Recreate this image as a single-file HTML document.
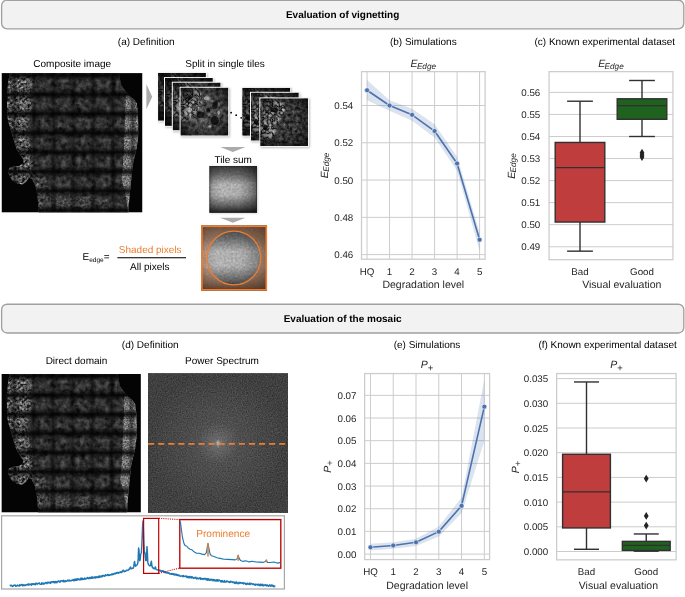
<!DOCTYPE html>
<html lang="en">
<head>
<meta charset="utf-8">
<title>Evaluation of vignetting and of the mosaic</title>
<style>
html,body{margin:0;padding:0;background:#fff;}
body{width:685px;height:597px;overflow:hidden;}
svg{display:block;font-family:"Liberation Sans", Arial, sans-serif;will-change:transform;text-rendering:geometricPrecision;}
</style>
</head>
<body>
<svg width="685" height="597" viewBox="0 0 685 597">
<rect width="685" height="597" fill="#fff"/>
<defs>
<filter id="fTissue" x="0" y="0" width="100%" height="100%" color-interpolation-filters="sRGB">
  <feTurbulence type="fractalNoise" baseFrequency="0.2" numOctaves="3" seed="3" result="n"/>
  <feColorMatrix in="n" type="matrix" values="0.5 0 0 0 -0.05  0.5 0 0 0 -0.05  0.5 0 0 0 -0.05  0 0 0 0 1" result="g"/>
  <feGaussianBlur in="g" stdDeviation="0.7"/>
</filter>
<filter id="fSpeck" x="-5%" y="-5%" width="110%" height="110%" color-interpolation-filters="sRGB">
  <feTurbulence type="fractalNoise" baseFrequency="0.38" numOctaves="3" seed="11" result="n"/>
  <feColorMatrix in="n" type="matrix" values="1.9 0 0 0 -0.5  1.9 0 0 0 -0.5  1.9 0 0 0 -0.5  0 0 0 0 1" result="g0"/>
  <feGaussianBlur in="g0" stdDeviation="0.4" result="g"/>
  <feGaussianBlur in="SourceAlpha" stdDeviation="3" result="a"/>
  <feComposite in="g" in2="a" operator="in"/>
</filter>
<filter id="fStrip" x="-5%" y="-5%" width="110%" height="110%" color-interpolation-filters="sRGB">
  <feTurbulence type="fractalNoise" baseFrequency="0.6" numOctaves="2" seed="17" result="n"/>
  <feColorMatrix in="n" type="matrix" values="1.0 0 0 0 0.06  1.0 0 0 0 0.06  1.0 0 0 0 0.06  0 0 0 0 1" result="g"/>
  <feGaussianBlur in="SourceAlpha" stdDeviation="0.7" result="a"/>
  <feComposite in="g" in2="a" operator="in"/>
</filter>
<filter id="fTile" x="0" y="0" width="100%" height="100%" color-interpolation-filters="sRGB">
  <feTurbulence type="fractalNoise" baseFrequency="0.25" numOctaves="3" seed="7" result="n"/>
  <feColorMatrix in="n" type="matrix" values="0.9 0 0 0 -0.12  0.9 0 0 0 -0.12  0.9 0 0 0 -0.12  0 0 0 0 1"/>
</filter>
<filter id="fTile2" x="0" y="0" width="100%" height="100%" color-interpolation-filters="sRGB">
  <feTurbulence type="fractalNoise" baseFrequency="0.3" numOctaves="3" seed="23" result="n"/>
  <feColorMatrix in="n" type="matrix" values="0.8 0 0 0 -0.17  0.8 0 0 0 -0.17  0.8 0 0 0 -0.17  0 0 0 0 1"/>
</filter>
<filter id="fSum" x="0" y="0" width="100%" height="100%" color-interpolation-filters="sRGB">
  <feTurbulence type="fractalNoise" baseFrequency="0.45" numOctaves="2" seed="5" result="n"/>
  <feColorMatrix in="n" type="matrix" values="0.26 0 0 0 0.6  0.26 0 0 0 0.6  0.26 0 0 0 0.6  0 0 0 0 1"/>
</filter>
<filter id="fPS" x="0" y="0" width="100%" height="100%" color-interpolation-filters="sRGB">
  <feTurbulence type="fractalNoise" baseFrequency="0.8" numOctaves="2" seed="9" result="n"/>
  <feColorMatrix in="n" type="matrix" values="0.26 0 0 0 0.125  0.26 0 0 0 0.125  0.26 0 0 0 0.125  0 0 0 0 1"/>
</filter>
<filter id="fShadow" x="-10%" y="-10%" width="125%" height="125%">
  <feGaussianBlur stdDeviation="0.8"/>
</filter>
<filter id="fBlur2" x="-20%" y="-20%" width="140%" height="140%"><feGaussianBlur stdDeviation="2.2"/></filter>
<filter id="fCell" x="-5%" y="-5%" width="110%" height="110%" color-interpolation-filters="sRGB">
  <feTurbulence type="turbulence" baseFrequency="0.22" numOctaves="2" seed="31" result="n"/>
  <feColorMatrix in="n" type="matrix" values="2.0 0 0 0 -0.05  2.0 0 0 0 -0.05  2.0 0 0 0 -0.05  0 0 0 0 1" result="g"/>
  <feGaussianBlur in="SourceAlpha" stdDeviation="1.3" result="a"/>
  <feComposite in="g" in2="a" operator="in"/>
</filter>
<filter id="fBlur07" x="-30%" y="-30%" width="160%" height="160%"><feGaussianBlur stdDeviation="0.7"/></filter>
<filter id="fBlur1" x="-20%" y="-20%" width="140%" height="140%"><feGaussianBlur stdDeviation="1"/></filter>
<linearGradient id="gEdgeL" x1="0" x2="1" y1="0" y2="0"><stop offset="0" stop-color="#000" stop-opacity="0.72"/><stop offset="0.5" stop-color="#000" stop-opacity="0.3"/><stop offset="1" stop-color="#000" stop-opacity="0"/></linearGradient>
<linearGradient id="gEdgeR" x1="1" x2="0" y1="0" y2="0"><stop offset="0" stop-color="#000" stop-opacity="0.72"/><stop offset="0.5" stop-color="#000" stop-opacity="0.3"/><stop offset="1" stop-color="#000" stop-opacity="0"/></linearGradient>
<linearGradient id="gEdgeT" x1="0" x2="0" y1="0" y2="1"><stop offset="0" stop-color="#000" stop-opacity="0.88"/><stop offset="0.5" stop-color="#000" stop-opacity="0.42"/><stop offset="1" stop-color="#000" stop-opacity="0"/></linearGradient>
<linearGradient id="gEdgeB" x1="0" x2="0" y1="1" y2="0"><stop offset="0" stop-color="#000" stop-opacity="0.88"/><stop offset="0.5" stop-color="#000" stop-opacity="0.42"/><stop offset="1" stop-color="#000" stop-opacity="0"/></linearGradient>
<pattern id="pVig" x="-7.2" y="2.1" width="19.8" height="19.3" patternUnits="userSpaceOnUse">
  <rect x="0" y="0" width="4.4" height="19.3" fill="url(#gEdgeL)" opacity="0.75"/>
  <rect x="15.4" y="0" width="4.4" height="19.3" fill="url(#gEdgeR)" opacity="0.75"/>
  <rect x="0" y="0" width="19.8" height="5.6" fill="url(#gEdgeT)"/>
  <rect x="0" y="13.7" width="19.8" height="5.6" fill="url(#gEdgeB)"/>
</pattern>
<radialGradient id="gTileVig" cx="50%" cy="50%" r="72%">
  <stop offset="0" stop-color="#000" stop-opacity="0"/>
  <stop offset="0.45" stop-color="#000" stop-opacity="0.1"/>
  <stop offset="0.8" stop-color="#000" stop-opacity="0.6"/>
  <stop offset="1" stop-color="#000" stop-opacity="0.9"/>
</radialGradient>
<radialGradient id="gSumVig" cx="0.5" cy="0.47" r="0.75" gradientTransform="translate(0.5,0.47) scale(1.18,0.92) translate(-0.5,-0.47)">
  <stop offset="0" stop-color="#000" stop-opacity="0"/>
  <stop offset="0.3" stop-color="#000" stop-opacity="0.06"/>
  <stop offset="0.5" stop-color="#000" stop-opacity="0.3"/>
  <stop offset="0.67" stop-color="#000" stop-opacity="0.6"/>
  <stop offset="0.9" stop-color="#000" stop-opacity="0.82"/>
  <stop offset="1" stop-color="#000" stop-opacity="0.88"/>
</radialGradient>
<linearGradient id="gVH" x1="0" x2="1" y1="0" y2="0">
  <stop offset="0" stop-color="#000" stop-opacity="0.3"/><stop offset="0.08" stop-color="#000" stop-opacity="0.12"/><stop offset="0.25" stop-color="#000" stop-opacity="0"/>
  <stop offset="0.62" stop-color="#000" stop-opacity="0.04"/><stop offset="0.86" stop-color="#000" stop-opacity="0.28"/><stop offset="1" stop-color="#000" stop-opacity="0.5"/>
</linearGradient>
<linearGradient id="gVV" x1="0" x2="0" y1="0" y2="1">
  <stop offset="0" stop-color="#000" stop-opacity="0.7"/><stop offset="0.2" stop-color="#000" stop-opacity="0.42"/><stop offset="0.4" stop-color="#000" stop-opacity="0.04"/>
  <stop offset="0.62" stop-color="#000" stop-opacity="0.04"/><stop offset="0.82" stop-color="#000" stop-opacity="0.42"/><stop offset="0.96" stop-color="#000" stop-opacity="0.74"/><stop offset="1" stop-color="#000" stop-opacity="0.9"/>
</linearGradient>
<radialGradient id="gPS" cx="50%" cy="50%" r="50%">
  <stop offset="0" stop-color="#fff" stop-opacity="0.6"/>
  <stop offset="0.05" stop-color="#fff" stop-opacity="0.22"/>
  <stop offset="0.3" stop-color="#fff" stop-opacity="0.08"/>
  <stop offset="1" stop-color="#fff" stop-opacity="0"/>
</radialGradient>
<clipPath id="cTissue">
  <path d="M8.2 0 L117.3 0 L118.5 6 L120 12.3 L124 18 L128.3 23.3 L132 26 L135.2 30.2 L136.4 40 L137 52 L136.6 64.8 L135 76 L133 84 L131.1 92.4 L130 104 L128.3 120 L127.5 130 L127 139.5
  L37.2 139.5 L36.5 128 L35.2 119 L34 113 L30.5 106 L27.5 104.5 L24.5 109 L21 111.5 L16 110.5 L11 107.5 L8.5 104 L6.5 98.5 L8 95 L12 93.5 L17 93 L21.5 90.5 L22 87 L19 82 L15.1 75.8 L12.5 68 L10.9 62 L8 53 L6.2 45.4 L5.6 34 L5.4 23.3 L6.4 11 Z"/>
</clipPath>
<clipPath id="cSq"><rect x="0" y="0" width="141" height="139.5"/></clipPath>
<clipPath id="cTile"><rect x="1" y="1" width="47.6" height="47.6"/></clipPath>

<g id="mosaic" clip-path="url(#cSq)">
  <rect width="141" height="139.5" fill="#040404"/>
  <g clip-path="url(#cTissue)">
    <rect width="141" height="139.5" fill="#303030"/>
    <rect width="141" height="139.5" filter="url(#fTissue)" opacity="0.85"/>
    <!-- bright speckled left margin -->
    <g filter="url(#fBlur2)" opacity="0.0"><rect/></g>
    <path d="M0 0 L38 0 L30 14 L33 30 L25 48 L28 64 L30 80 L35 96 L38 112 L40 139.5 L0 139.5 Z" filter="url(#fSpeck)" opacity="0.6"/>
    <path d="M40 104 L75 118 L110 128 L127 139.5 L40 139.5 Z" filter="url(#fSpeck)" opacity="0.22"/>
    <!-- bright right strip -->
    <path d="M124 22 L141 22 L141 139.5 L126 139.5 L125.2 128 L123 116 L120 106 L121.5 92 L122.8 64.8 L123.6 45 L124.2 30 Z" filter="url(#fStrip)" opacity="0.75"/>
    <rect width="141" height="139.5" fill="url(#pVig)"/>
    <!-- a few dark holes -->
    <g fill="#000" opacity="0.55">
      <ellipse cx="45" cy="80" rx="2" ry="2.6"/><ellipse cx="28" cy="78" rx="1.6" ry="2"/><ellipse cx="59" cy="55" rx="1.6" ry="1.4"/>
      <ellipse cx="40" cy="104" rx="1.8" ry="1.5"/><ellipse cx="76" cy="32" rx="2" ry="1.3"/><ellipse cx="38" cy="48" rx="1.3" ry="1.3"/>
    </g>
  </g>
</g>

<g id="tileA">
  <rect x="1.2" y="1.2" width="49.2" height="49.2" fill="#000" opacity="0.28" filter="url(#fShadow)"/>
  <rect width="49.6" height="49.6" fill="#fbfbfb"/>
  <g clip-path="url(#cTile)">
  <rect x="1" y="1" width="47.6" height="47.6" fill="#404040"/>
  <rect x="1" y="1" width="47.6" height="47.6" filter="url(#fTile)" opacity="0.75"/>
  <path d="M0 0 L19 0 L23 9 L20 20 L14 32 L2 36 L0 30 Z" filter="url(#fCell)" opacity="0.7"/>
  <g fill="#000" opacity="0.72" filter="url(#fBlur07)"><ellipse cx="35.4" cy="18.5" rx="2.8" ry="4"/><ellipse cx="35.2" cy="33.8" rx="4.2" ry="4.6"/><ellipse cx="21" cy="28" rx="3.8" ry="3.2"/><ellipse cx="9" cy="11" rx="3.5" ry="1.6"/><ellipse cx="28.5" cy="23.5" rx="2" ry="2.4"/></g>
  <g fill="#fff" opacity="0.55" filter="url(#fBlur07)"><ellipse cx="27" cy="11.5" rx="2.6" ry="2"/><ellipse cx="9.6" cy="23" rx="2.8" ry="2.4"/><ellipse cx="30.5" cy="39.5" rx="1.6" ry="1.1"/><ellipse cx="39" cy="26" rx="1.2" ry="2.2"/></g>
  <rect x="1" y="1" width="47.6" height="47.6" fill="url(#gTileVig)"/>
  </g>
</g>
<g id="tileB">
  <rect x="1.2" y="1.2" width="49.2" height="49.2" fill="#000" opacity="0.28" filter="url(#fShadow)"/>
  <rect width="49.6" height="49.6" fill="#f4f4f4"/>
  <g clip-path="url(#cTile)">
  <rect x="1" y="1" width="47.6" height="47.6" fill="#303030"/>
  <rect x="1" y="1" width="47.6" height="47.6" filter="url(#fTile2)" opacity="0.7"/>
  <path d="M0 3 L10 1 L24 4 L28 12 L22 20 L17 28 L15 38 L8 45 L0 46 Z" filter="url(#fCell)" opacity="0.7"/>
  <g fill="#000" opacity="0.75" filter="url(#fBlur07)"><ellipse cx="14.7" cy="12.5" rx="3.7" ry="2.4"/><ellipse cx="6" cy="30" rx="2" ry="3"/></g>
  <path d="M27 6 Q38 8 46 12" stroke="#fff" stroke-width="0.7" fill="none" opacity="0.25"/>
  <rect x="1" y="1" width="47.6" height="47.6" fill="url(#gTileVig)" opacity="0.8"/>
  </g>
</g>
</defs>
<rect x="1.6" y="0.2" width="682.2" height="28.6" rx="5.5" ry="5.5" fill="#f2f2f2" stroke="#a0a0a0" stroke-width="1.35"/>
<text x="342.6" y="18.2" font-size="10" text-anchor="middle" fill="#000" font-weight="bold" font-style="normal" >Evaluation of vignetting</text>
<rect x="1.6" y="304.2" width="682.2" height="28.80000000000001" rx="5.5" ry="5.5" fill="#f2f2f2" stroke="#a0a0a0" stroke-width="1.35"/>
<text x="342.6" y="322.3" font-size="10" text-anchor="middle" fill="#000" font-weight="bold" font-style="normal" >Evaluation of the mosaic</text>
<text x="146.2" y="45.0" font-size="10" text-anchor="middle" fill="#000" font-weight="normal" font-style="normal" >(a) Definition</text>
<text x="72.2" y="66.6" font-size="10" text-anchor="middle" fill="#000" font-weight="normal" font-style="normal" >Composite image</text>
<text x="225" y="66.6" font-size="10" text-anchor="middle" fill="#000" font-weight="normal" font-style="normal" >Split in single tiles</text>
<use href="#mosaic" transform="translate(1.5,73.1)"/>
<path d="M146.4 84.3 L152.2 96.8 L146.4 109.3 Z" fill="#ababab"/>
<use href="#tileA" x="157.15" y="71.9"/>
<rect x="158.15" y="72.9" width="47.6" height="47.6" fill="#000" opacity="0.4"/>
<use href="#tileA" x="164.0" y="77.1"/>
<rect x="165.0" y="78.1" width="47.6" height="47.6" fill="#000" opacity="0.4"/>
<use href="#tileA" x="171.8" y="81.7"/>
<use href="#tileA" x="179.6" y="86.8"/>
<use href="#tileB" x="241.5" y="86.9"/>
<rect x="242.5" y="87.9" width="47.6" height="47.6" fill="#000" opacity="0.35"/>
<use href="#tileB" x="250.0" y="91.8"/>
<use href="#tileB" x="259.4" y="97.4"/>
<circle cx="231.1" cy="112.7" r="0.9" fill="#000"/>
<circle cx="236.2" cy="115.2" r="0.9" fill="#000"/>
<circle cx="241.2" cy="117.8" r="0.9" fill="#000"/>
<path d="M220.2 146.9 L245.5 146.9 L232.85 152.1 Z" fill="#ababab"/>
<path d="M220.2 217.7 L245.5 217.7 L232.85 222.8 Z" fill="#ababab"/>
<text x="233.2" y="163.0" font-size="10" text-anchor="middle" fill="#000" font-weight="normal" font-style="normal" >Tile sum</text>
<rect x="210.0" y="166.5" width="47.6" height="46.8" fill="#000" opacity="0.22" filter="url(#fShadow)"/>
<rect x="209.6" y="166.0" width="47.4" height="46.7" filter="url(#fSum)"/>
<rect x="209.6" y="166.0" width="47.4" height="46.7" fill="url(#gVH)"/>
<rect x="209.6" y="166.0" width="47.4" height="46.7" fill="url(#gVV)"/>
<rect x="209.9" y="166.3" width="46.8" height="46.1" fill="none" stroke="#222" stroke-width="0.6" opacity="0.8"/>
<rect x="201.2" y="225.6" width="65.8" height="64.9" filter="url(#fSum)"/>
<rect x="201.2" y="225.6" width="65.8" height="64.9" fill="url(#gVH)"/>
<rect x="201.2" y="225.6" width="65.8" height="64.9" fill="url(#gVV)"/>
<path fill-rule="evenodd" d="M201.2 225.6 h65.8 v64.9 h-65.8 Z M260.7 258.0 a26.8 26.8 0 1 0 -53.6 0 a26.8 26.8 0 1 0 53.6 0 Z" fill="#e8834a" opacity="0.3"/>
<circle cx="233.9" cy="258.0" r="26.8" fill="none" stroke="#ed7d31" stroke-width="1.25"/>
<rect x="201.9" y="226.3" width="64.4" height="63.5" fill="none" stroke="#ed7d31" stroke-width="1.6"/>
<text x="82.5" y="260.2" font-size="10" fill="#000">E<tspan font-size="6.5" dy="2">edge</tspan><tspan dy="-2">=</tspan></text>
<text x="150.2" y="252.5" font-size="10" text-anchor="middle" fill="#ed7d31" font-weight="normal" font-style="normal" >Shaded pixels</text>
<rect x="117.4" y="257.1" width="68.6" height="1.2" fill="#222"/>
<text x="149.8" y="270.2" font-size="10" text-anchor="middle" fill="#000" font-weight="normal" font-style="normal" >All pixels</text>
<text x="423.3" y="45.0" font-size="10" text-anchor="middle" fill="#000" font-weight="normal" font-style="normal" >(b) Simulations</text>
<line x1="361.5" x2="485.1" y1="105.50" y2="105.50" stroke="#cccccc" stroke-width="1"/>
<line x1="361.5" x2="485.1" y1="142.78" y2="142.78" stroke="#cccccc" stroke-width="1"/>
<line x1="361.5" x2="485.1" y1="180.06" y2="180.06" stroke="#cccccc" stroke-width="1"/>
<line x1="361.5" x2="485.1" y1="217.34" y2="217.34" stroke="#cccccc" stroke-width="1"/>
<line x1="361.5" x2="485.1" y1="254.62" y2="254.62" stroke="#cccccc" stroke-width="1"/>
<line x1="367.05" x2="367.05" y1="71.65" y2="259.2" stroke="#cccccc" stroke-width="1"/>
<line x1="389.56" x2="389.56" y1="71.65" y2="259.2" stroke="#cccccc" stroke-width="1"/>
<line x1="412.07" x2="412.07" y1="71.65" y2="259.2" stroke="#cccccc" stroke-width="1"/>
<line x1="434.58" x2="434.58" y1="71.65" y2="259.2" stroke="#cccccc" stroke-width="1"/>
<line x1="457.09" x2="457.09" y1="71.65" y2="259.2" stroke="#cccccc" stroke-width="1"/>
<line x1="479.60" x2="479.60" y1="71.65" y2="259.2" stroke="#cccccc" stroke-width="1"/>
<rect x="361.5" y="71.65" width="123.60000000000002" height="187.54999999999998" fill="none" stroke="#cccccc" stroke-width="1.25"/>
<clipPath id="cl361"><rect x="361.5" y="71.65" width="123.60000000000002" height="187.54999999999998"/></clipPath>
<g clip-path="url(#cl361)">
<polygon points="367.05,79.96 389.56,100.28 412.07,108.86 434.58,124.14 457.09,156.76 479.60,232.25 479.60,250.89 457.09,170.74 434.58,137.56 412.07,120.78 389.56,110.72 367.05,100.28" fill="#4c72b0" fill-opacity="0.2"/>
<polyline points="367.05,90.22 389.56,105.50 412.07,114.82 434.58,131.04 457.09,163.47 479.60,239.71" fill="none" stroke="#4c72b0" stroke-width="1.6" stroke-linejoin="round"/>
</g>
<circle cx="367.05" cy="90.22" r="2.5" fill="#4c72b0" stroke="#fff" stroke-width="0.6"/>
<circle cx="389.56" cy="105.50" r="2.5" fill="#4c72b0" stroke="#fff" stroke-width="0.6"/>
<circle cx="412.07" cy="114.82" r="2.5" fill="#4c72b0" stroke="#fff" stroke-width="0.6"/>
<circle cx="434.58" cy="131.04" r="2.5" fill="#4c72b0" stroke="#fff" stroke-width="0.6"/>
<circle cx="457.09" cy="163.47" r="2.5" fill="#4c72b0" stroke="#fff" stroke-width="0.6"/>
<circle cx="479.60" cy="239.71" r="2.5" fill="#4c72b0" stroke="#fff" stroke-width="0.6"/>
<text x="353.3" y="109.0" font-size="9.75" text-anchor="end" fill="#262626" font-weight="normal" font-style="normal" >0.54</text>
<text x="353.3" y="146.28000000000003" font-size="9.75" text-anchor="end" fill="#262626" font-weight="normal" font-style="normal" >0.52</text>
<text x="353.3" y="183.56000000000006" font-size="9.75" text-anchor="end" fill="#262626" font-weight="normal" font-style="normal" >0.50</text>
<text x="353.3" y="220.8400000000001" font-size="9.75" text-anchor="end" fill="#262626" font-weight="normal" font-style="normal" >0.48</text>
<text x="353.3" y="258.12" font-size="9.75" text-anchor="end" fill="#262626" font-weight="normal" font-style="normal" >0.46</text>
<text x="367.05" y="274.6" font-size="9.75" text-anchor="middle" fill="#262626" font-weight="normal" font-style="normal" >HQ</text>
<text x="389.56" y="274.6" font-size="9.75" text-anchor="middle" fill="#262626" font-weight="normal" font-style="normal" >1</text>
<text x="412.07" y="274.6" font-size="9.75" text-anchor="middle" fill="#262626" font-weight="normal" font-style="normal" >2</text>
<text x="434.58000000000004" y="274.6" font-size="9.75" text-anchor="middle" fill="#262626" font-weight="normal" font-style="normal" >3</text>
<text x="457.09000000000003" y="274.6" font-size="9.75" text-anchor="middle" fill="#262626" font-weight="normal" font-style="normal" >4</text>
<text x="479.6" y="274.6" font-size="9.75" text-anchor="middle" fill="#262626" font-weight="normal" font-style="normal" >5</text>
<text x="423.3" y="288.0" font-size="10.5" text-anchor="middle" fill="#262626" font-weight="normal" font-style="normal" >Degradation level</text>
<text x="423.3" y="67.0" font-size="10.5" text-anchor="middle" fill="#262626" font-style="italic">E<tspan font-size="8.2" font-style="italic" dx="-0.7" dy="1.7">Edge</tspan></text>
<text transform="translate(327.5,165.425) rotate(-90)" font-size="10.5" text-anchor="middle" fill="#262626" font-style="italic">E<tspan font-size="8.2" font-style="italic" dx="-0.7" dy="1.7">Edge</tspan></text>
<text x="604.8" y="45.0" font-size="10" text-anchor="middle" fill="#000" font-weight="normal" font-style="normal" >(c) Known experimental dataset</text>
<line x1="549.05" x2="672.95" y1="92.40" y2="92.40" stroke="#cccccc" stroke-width="1"/>
<line x1="549.05" x2="672.95" y1="114.45" y2="114.45" stroke="#cccccc" stroke-width="1"/>
<line x1="549.05" x2="672.95" y1="136.50" y2="136.50" stroke="#cccccc" stroke-width="1"/>
<line x1="549.05" x2="672.95" y1="158.55" y2="158.55" stroke="#cccccc" stroke-width="1"/>
<line x1="549.05" x2="672.95" y1="180.60" y2="180.60" stroke="#cccccc" stroke-width="1"/>
<line x1="549.05" x2="672.95" y1="202.65" y2="202.65" stroke="#cccccc" stroke-width="1"/>
<line x1="549.05" x2="672.95" y1="224.70" y2="224.70" stroke="#cccccc" stroke-width="1"/>
<line x1="549.05" x2="672.95" y1="246.75" y2="246.75" stroke="#cccccc" stroke-width="1"/>
<rect x="549.05" y="71.65" width="123.90000000000009" height="188.04999999999998" fill="none" stroke="#cccccc" stroke-width="1.25"/>
<line x1="580.0" x2="580.0" y1="101.22" y2="142.45" stroke="#303030" stroke-width="1.4"/>
<line x1="580.0" x2="580.0" y1="222.05" y2="251.16" stroke="#303030" stroke-width="1.4"/>
<line x1="567.1" x2="592.9" y1="101.22" y2="101.22" stroke="#303030" stroke-width="1.4"/>
<line x1="567.1" x2="592.9" y1="251.16" y2="251.16" stroke="#303030" stroke-width="1.4"/>
<rect x="555.2" y="142.45" width="49.6" height="79.60" fill="#c03d3e" stroke="#303030" stroke-width="1.4"/>
<line x1="555.2" x2="604.8" y1="167.59" y2="167.59" stroke="#303030" stroke-width="1.4"/>
<line x1="642.0" x2="642.0" y1="80.49" y2="98.79" stroke="#303030" stroke-width="1.4"/>
<line x1="642.0" x2="642.0" y1="119.30" y2="136.50" stroke="#303030" stroke-width="1.4"/>
<line x1="629.1" x2="654.9" y1="80.49" y2="80.49" stroke="#303030" stroke-width="1.4"/>
<line x1="629.1" x2="654.9" y1="136.50" y2="136.50" stroke="#303030" stroke-width="1.4"/>
<rect x="617.2" y="98.79" width="49.6" height="20.51" fill="#1f621f" stroke="#303030" stroke-width="1.4"/>
<line x1="617.2" x2="666.8" y1="105.63" y2="105.63" stroke="#303030" stroke-width="1.4"/>
<path d="M642.0 148.81 L644.4 152.71 L642.0 156.61 L639.6 152.71 Z" fill="#242424"/>
<path d="M642.0 150.99 L644.4 154.89 L642.0 158.79 L639.6 154.89 Z" fill="#242424"/>
<path d="M642.0 153.11 L644.4 157.01 L642.0 160.91 L639.6 157.01 Z" fill="#242424"/>
<text x="540.3" y="95.89999999999995" font-size="9.75" text-anchor="end" fill="#262626" font-weight="normal" font-style="normal" >0.56</text>
<text x="540.3" y="117.94999999999997" font-size="9.75" text-anchor="end" fill="#262626" font-weight="normal" font-style="normal" >0.55</text>
<text x="540.3" y="140.0" font-size="9.75" text-anchor="end" fill="#262626" font-weight="normal" font-style="normal" >0.54</text>
<text x="540.3" y="162.05" font-size="9.75" text-anchor="end" fill="#262626" font-weight="normal" font-style="normal" >0.53</text>
<text x="540.3" y="184.10000000000005" font-size="9.75" text-anchor="end" fill="#262626" font-weight="normal" font-style="normal" >0.52</text>
<text x="540.3" y="206.15000000000006" font-size="9.75" text-anchor="end" fill="#262626" font-weight="normal" font-style="normal" >0.51</text>
<text x="540.3" y="228.2000000000001" font-size="9.75" text-anchor="end" fill="#262626" font-weight="normal" font-style="normal" >0.50</text>
<text x="540.3" y="250.2500000000001" font-size="9.75" text-anchor="end" fill="#262626" font-weight="normal" font-style="normal" >0.49</text>
<text x="580.0" y="275.4" font-size="9.75" text-anchor="middle" fill="#262626" font-weight="normal" font-style="normal" >Bad</text>
<text x="642.0" y="275.4" font-size="9.75" text-anchor="middle" fill="#262626" font-weight="normal" font-style="normal" >Good</text>
<text x="621.8" y="288.0" font-size="10.5" text-anchor="middle" fill="#262626" font-weight="normal" font-style="normal" >Visual evaluation</text>
<text x="611.0" y="67.0" font-size="10.5" text-anchor="middle" fill="#262626" font-style="italic">E<tspan font-size="8.2" font-style="italic" dx="-0.7" dy="1.7">Edge</tspan></text>
<text transform="translate(514.7,166) rotate(-90)" font-size="10.5" text-anchor="middle" fill="#262626" font-style="italic">E<tspan font-size="8.2" font-style="italic" dx="-0.7" dy="1.7">Edge</tspan></text>
<text x="150.2" y="347.6" font-size="10" text-anchor="middle" fill="#000" font-weight="normal" font-style="normal" >(d) Definition</text>
<text x="76.5" y="363.8" font-size="10" text-anchor="middle" fill="#000" font-weight="normal" font-style="normal" >Direct domain</text>
<text x="222.0" y="363.8" font-size="10" text-anchor="middle" fill="#000" font-weight="normal" font-style="normal" >Power Spectrum</text>
<use href="#mosaic" transform="translate(1.4,373.9) scale(0.9894,0.994)"/>
<rect x="148.0" y="373.9" width="140.0" height="138.6" fill="#3a3a3a"/>
<rect x="148.0" y="373.9" width="140.0" height="138.6" filter="url(#fPS)" opacity="0.9"/>
<rect x="148.0" y="373.9" width="140.0" height="138.6" fill="url(#gPS)"/>
<rect x="217.6" y="439.5" width="0.9" height="8.6" fill="#fff" opacity="0.25"/>
<line x1="148.1" x2="288.0" y1="443.85" y2="443.85" stroke="#ed7d31" stroke-width="1.6" stroke-dasharray="6.1 3.98"/>
<rect x="1.6" y="515.8" width="282.8" height="73.2" fill="#fff" stroke="#a6a6a6" stroke-width="1.2"/>
<polyline points="9.8,585.6 10.2,585.3 10.6,585.8 11.0,585.4 11.4,585.2 11.8,585.7 12.2,586.5 12.6,586.3 13.0,586.2 13.4,585.3 13.8,585.8 14.2,585.3 14.6,585.1 15.0,585.0 15.4,585.1 15.8,586.3 16.2,586.1 16.6,586.0 17.0,586.0 17.4,585.0 17.8,585.1 18.2,585.6 18.6,585.8 19.0,585.9 19.4,586.0 19.8,584.6 20.2,585.4 20.6,585.5 21.0,585.2 21.4,584.6 21.8,585.1 22.2,584.4 22.6,585.8 23.0,585.7 23.4,585.1 23.8,584.7 24.2,585.6 24.6,585.1 25.0,585.5 25.4,585.5 25.8,584.9 26.2,584.7 26.6,585.0 27.0,584.7 27.4,584.2 27.8,584.4 28.2,585.2 28.6,583.9 29.0,583.9 29.4,584.8 29.8,584.2 30.2,584.6 30.6,584.4 31.0,584.2 31.4,585.2 31.8,583.8 32.2,584.2 32.6,583.8 33.0,584.5 33.4,583.8 33.8,583.9 34.2,584.5 34.6,583.8 35.0,584.2 35.4,584.7 35.8,583.3 36.2,583.2 36.6,583.5 37.0,584.3 37.4,584.0 37.8,583.4 38.2,583.5 38.6,583.2 39.0,583.6 39.4,582.9 39.8,584.0 40.2,584.2 40.6,584.3 41.0,583.9 41.4,584.2 41.8,582.7 42.2,583.1 42.6,584.1 43.0,583.8 43.4,583.2 43.8,584.0 44.2,583.4 44.6,583.7 45.0,582.8 45.4,582.6 45.8,583.0 46.2,582.5 46.6,582.8 47.0,583.7 47.4,582.7 47.8,582.1 48.2,582.1 48.6,582.3 49.0,583.2 49.4,582.5 49.8,582.3 50.2,582.0 50.6,583.4 51.0,582.4 51.4,582.0 51.8,581.7 52.2,581.7 52.6,581.8 53.0,582.6 53.4,581.7 53.8,581.5 54.2,582.2 54.6,581.7 55.0,582.9 55.4,581.4 55.8,582.0 56.2,582.4 56.6,581.8 57.0,582.7 57.4,581.8 57.8,581.3 58.2,581.6 58.6,580.9 59.0,581.5 59.4,581.2 59.8,582.2 60.2,582.0 60.6,581.4 61.0,580.6 61.4,580.9 61.8,580.9 62.2,580.8 62.6,580.8 63.0,581.8 63.4,580.5 63.8,580.3 64.2,581.7 64.6,581.1 65.0,581.7 65.4,580.7 65.8,581.5 66.2,581.0 66.6,581.2 67.0,581.1 67.4,580.6 67.8,579.9 68.2,580.1 68.6,581.1 69.0,581.1 69.4,581.1 69.8,580.1 70.2,580.6 70.6,580.8 71.0,580.5 71.4,580.7 71.8,580.2 72.2,580.3 72.6,580.3 73.0,579.6 73.4,580.6 73.8,580.7 74.2,579.2 74.6,580.6 75.0,580.5 75.4,580.0 75.8,578.9 76.2,580.3 76.6,579.0 77.0,580.3 77.4,579.8 77.8,578.7 78.2,578.8 78.6,579.6 79.0,579.4 79.4,579.6 79.8,579.9 80.2,578.7 80.6,578.3 81.0,579.7 81.4,578.2 81.8,579.6 82.2,578.3 82.6,579.4 83.0,579.3 83.4,579.4 83.8,578.8 84.2,579.3 84.6,578.1 85.0,578.9 85.4,578.3 85.8,579.1 86.2,578.9 86.6,578.3 87.0,578.4 87.4,577.5 87.8,577.5 88.2,578.4 88.6,578.1 89.0,578.7 89.4,578.2 89.8,577.4 90.2,577.7 90.6,578.4 91.0,577.9 91.4,577.0 91.8,578.3 92.2,578.3 92.6,577.0 93.0,577.7 93.4,577.4 93.8,578.0 94.2,577.2 94.6,577.0 95.0,577.4 95.4,578.1 95.8,576.6 96.2,576.6 96.6,577.4 97.0,577.7 97.4,577.0 97.8,576.8 98.2,577.5 98.6,577.3 99.0,576.0 99.4,577.3 99.8,576.1 100.2,576.2 100.6,577.0 101.0,576.2 101.4,576.8 101.8,575.7 102.2,576.7 102.6,575.5 103.0,575.4 103.4,575.9 103.8,575.6 104.2,575.8 104.6,576.3 105.0,575.9 105.4,574.8 105.8,575.2 106.2,575.5 106.6,575.3 107.0,575.6 107.4,575.1 107.8,574.4 108.2,574.6 108.6,575.5 109.0,574.7 109.4,575.2 109.8,575.4 110.2,574.8 110.6,574.8 111.0,574.6 111.4,574.1 111.8,574.8 112.2,574.1 112.6,574.6 113.0,573.7 113.4,574.4 113.8,574.2 114.2,573.9 114.6,573.5 115.0,573.1 115.4,573.8 115.8,573.2 116.2,573.5 116.6,572.7 117.0,572.5 117.4,572.5 117.8,573.3 118.2,572.4 118.6,573.2 119.0,572.5 119.4,572.6 119.8,572.2 120.2,572.5 120.6,571.8 121.0,572.0 121.4,572.6 121.8,571.6 122.2,572.0 122.6,571.1 123.0,570.1 123.4,570.1 123.8,570.7 124.2,571.8 124.6,571.5 125.0,571.3 125.4,571.2 125.8,571.2 126.2,570.2 126.6,570.5 127.0,570.2 127.4,570.2 127.8,570.4 128.2,570.0 128.6,570.1 129.0,569.1 129.4,569.4 129.8,568.8 130.2,567.4 130.6,567.1 131.0,568.5 131.4,568.4 131.8,568.8 132.2,568.2 132.6,568.2 133.0,568.2 133.4,567.7 133.8,566.4 134.2,563.0 134.6,561.4 135.0,564.5 135.4,566.2 135.8,566.1 136.2,565.4 136.6,565.1 137.0,565.0 137.4,564.3 137.8,563.5 138.2,558.4 138.6,548.0 139.0,549.9 139.4,558.9 139.8,560.8 140.2,559.4 140.6,554.7 141.0,553.6 141.4,552.4 141.8,546.0 142.2,536.8 142.6,526.0 143.0,521.1 143.4,530.6 143.8,542.4 144.2,549.9 144.6,553.4 145.0,552.9 145.4,557.8 145.8,560.6 146.2,560.6 146.6,554.7 147.0,546.6 147.4,553.2 147.8,562.4 148.2,563.9 148.6,564.8 149.0,565.1 149.4,565.3 149.8,566.0 150.2,565.7 150.6,565.5 151.0,562.5 151.4,561.3 151.8,564.8 152.2,567.1 152.6,567.5 153.0,567.7 153.4,568.6 153.8,568.2 154.2,568.8 154.6,568.7 155.0,567.8 155.4,566.9 155.8,568.3 156.2,569.4 156.6,569.6 157.0,569.6 157.4,569.9 157.8,570.1 158.2,570.1 158.6,570.2 159.0,570.0 159.4,570.8 159.8,570.6 160.2,570.3 160.6,570.6 161.0,571.5 161.4,571.0 161.8,571.2 162.2,571.2 162.6,570.7 163.0,570.6 163.4,571.5 163.8,571.8 164.2,571.5 164.6,572.5 165.0,571.6 165.4,572.8 165.8,572.0 166.2,572.1 166.6,573.0 167.0,573.0 167.4,572.4 167.8,572.9 168.2,572.9 168.6,573.3 169.0,572.7 169.4,573.6 169.8,573.9 170.2,573.7 170.6,574.0 171.0,574.2 171.4,573.5 171.8,574.2 172.2,574.3 172.6,574.1 173.0,573.5 173.4,574.3 173.8,574.8 174.2,574.0 174.6,574.6 175.0,575.1 175.4,574.7 175.8,574.0 176.2,574.9 176.6,574.5 177.0,575.4 177.4,575.2 177.8,574.8 178.2,575.7 178.6,575.4 179.0,575.0 179.4,575.9 179.8,576.0 180.2,576.1 180.6,576.2 181.0,575.9 181.4,576.0 181.8,576.0 182.2,575.9 182.6,576.7 183.0,575.8 183.4,575.4 183.8,576.5 184.2,576.2 184.6,576.4 185.0,576.6 185.4,576.1 185.8,576.0 186.2,575.9 186.6,577.2 187.0,577.4 187.4,577.2 187.8,576.3 188.2,577.8 188.6,577.6 189.0,577.1 189.4,576.4 189.8,577.8 190.2,577.5 190.6,577.6 191.0,576.6 191.4,577.9 191.8,576.8 192.2,577.5 192.6,577.0 193.0,577.4 193.4,578.4 193.8,578.2 194.2,578.3 194.6,577.5 195.0,577.7 195.4,578.1 195.8,577.2 196.2,577.9 196.6,578.9 197.0,578.6 197.4,578.8 197.8,577.9 198.2,578.6 198.6,578.8 199.0,578.7 199.4,578.3 199.8,577.9 200.2,577.7 200.6,579.2 201.0,579.3 201.4,578.3 201.8,579.1 202.2,578.6 202.6,579.0 203.0,579.4 203.4,578.6 203.8,579.1 204.2,578.6 204.6,579.0 205.0,578.3 205.4,578.7 205.8,578.8 206.2,579.9 206.6,578.7 207.0,579.7 207.4,578.7 207.8,580.2 208.2,578.9 208.6,578.8 209.0,579.1 209.4,580.3 209.8,579.9 210.2,580.3 210.6,579.7 211.0,579.1 211.4,579.6 211.8,579.8 212.2,580.7 212.6,579.4 213.0,579.6 213.4,580.6 213.8,579.5 214.2,580.9 214.6,579.9 215.0,580.4 215.4,580.6 215.8,581.0 216.2,579.7 216.6,581.0 217.0,580.0 217.4,580.9 217.8,579.8 218.2,581.1 218.6,580.2 219.0,580.2 219.4,580.0 219.8,580.5 220.2,580.6 220.6,581.7 221.0,581.1 221.4,580.8 221.8,581.9 222.2,580.6 222.6,580.7 223.0,581.9 223.4,582.0 223.8,581.6 224.2,582.1 224.6,580.6 225.0,582.1 225.4,581.8 225.8,581.8 226.2,582.1 226.6,580.9 227.0,581.2 227.4,581.1 227.8,581.7 228.2,581.9 228.6,581.9 229.0,581.6 229.4,582.3 229.8,582.5 230.2,582.4 230.6,581.3 231.0,581.5 231.4,581.7 231.8,581.8 232.2,582.4 232.6,581.8 233.0,582.5 233.4,582.1 233.8,582.2 234.2,582.8 234.6,583.3 235.0,582.1 235.4,582.4 235.8,583.5 236.2,582.2 236.6,582.0 237.0,582.3 237.4,583.4 237.8,583.3 238.2,583.7 238.6,583.0 239.0,582.2 239.4,582.7 239.8,583.4 240.2,582.9 240.6,582.5 241.0,583.0 241.4,583.2 241.8,583.0 242.2,583.2 242.6,582.7 243.0,582.6 243.4,583.9 243.8,583.8 244.2,583.3 244.6,582.9 245.0,583.2 245.4,583.7 245.8,584.3 246.2,583.6 246.6,584.5 247.0,583.8 247.4,583.2 247.8,584.0 248.2,584.0 248.6,584.0 249.0,584.3 249.4,583.1 249.8,583.9 250.2,584.5 250.6,583.4 251.0,583.3 251.4,583.6 251.8,583.8 252.2,584.1 252.6,583.9 253.0,584.5 253.4,583.8 253.8,584.1 254.2,584.7 254.6,584.5 255.0,585.2 255.4,585.2 255.8,584.1 256.2,584.3 256.6,584.6 257.0,584.7 257.4,584.4 257.8,585.3 258.2,584.2 258.6,584.7 259.0,584.2 259.4,585.4 259.8,585.0 260.2,585.7 260.6,584.3 261.0,585.3 261.4,585.1 261.8,584.2 262.2,585.5 262.6,585.7 263.0,584.4 263.4,585.8 263.8,585.6 264.2,585.3 264.6,585.3 265.0,584.8 265.4,584.5 265.8,585.2 266.2,585.9 266.6,584.9 267.0,585.3 267.4,585.0 267.8,585.7 268.2,586.2 268.6,586.1 269.0,585.2 269.4,585.4 269.8,584.8 270.2,585.7 270.6,586.2 271.0,586.2 271.4,585.0 271.8,585.6 272.2,585.1 272.6,585.7 273.0,586.5 273.4,585.5 273.8,586.4 274.2,586.7 274.6,586.5 275.0,585.5" fill="none" stroke="#1f77b4" stroke-width="1.45" stroke-linejoin="round"/>
<rect x="143.6" y="518.4" width="15.1" height="55" fill="none" stroke="#c00000" stroke-width="1.2"/>
<rect x="179.8" y="519.6" width="101" height="48.6" fill="#fff" stroke="#c00000" stroke-width="1.35"/>
<line x1="158.9" y1="518.3" x2="179.8" y2="519.6" stroke="#c00000" stroke-width="1" stroke-dasharray="1.1 1.1"/>
<line x1="158.9" y1="573.3" x2="179.8" y2="568" stroke="#c00000" stroke-width="1" stroke-dasharray="1.1 1.1"/>
<text x="223.2" y="537.0" font-size="10.15" text-anchor="middle" fill="#ed7d31" font-weight="normal" font-style="normal" >Prominence</text>
<polyline points="180.4,521.5 181.2,528.0 182.4,537.0 184.0,543.6 185.2,545.6 186.5,546.0 188.0,547.7 190.0,549.2 192.0,549.8 194.0,551.8 196.5,553.2 199.0,553.3 202.0,554.1 204.5,554.6 206.3,552.9 207.4,546.4 208.0,543.3 208.8,547.7 210.0,553.8 211.5,555.8 214.0,556.5 217.0,557.7 220.0,558.4 224.0,559.3 228.0,559.4 232.0,559.6 235.4,559.9 237.2,558.6 238.2,555.1 239.2,558.4 240.6,560.6 243.0,561.4 246.0,560.8 249.0,561.9 252.0,561.3 256.0,562.0 260.0,562.1 263.0,562.4 265.4,561.6 266.4,560.1 267.4,562.5 270.0,562.5 274.0,562.0 277.0,563.1 280.3,562.6" fill="none" stroke="#1f77b4" stroke-width="1.1" stroke-linejoin="round"/>
<line x1="208.0" x2="208.0" y1="543.6" y2="556.6" stroke="#ed7d31" stroke-width="1.6"/>
<line x1="238.2" x2="238.2" y1="555.2" y2="560.8" stroke="#ed7d31" stroke-width="1.6"/>
<line x1="266.4" x2="266.4" y1="559.6" y2="562.2" stroke="#ed7d31" stroke-width="1.6"/>
<text x="427.0" y="347.6" font-size="10" text-anchor="middle" fill="#000" font-weight="normal" font-style="normal" >(e) Simulations</text>
<line x1="364.65" x2="489.6" y1="395.34" y2="395.34" stroke="#cccccc" stroke-width="1"/>
<line x1="364.65" x2="489.6" y1="418.02" y2="418.02" stroke="#cccccc" stroke-width="1"/>
<line x1="364.65" x2="489.6" y1="440.70" y2="440.70" stroke="#cccccc" stroke-width="1"/>
<line x1="364.65" x2="489.6" y1="463.38" y2="463.38" stroke="#cccccc" stroke-width="1"/>
<line x1="364.65" x2="489.6" y1="486.06" y2="486.06" stroke="#cccccc" stroke-width="1"/>
<line x1="364.65" x2="489.6" y1="508.74" y2="508.74" stroke="#cccccc" stroke-width="1"/>
<line x1="364.65" x2="489.6" y1="531.42" y2="531.42" stroke="#cccccc" stroke-width="1"/>
<line x1="364.65" x2="489.6" y1="554.10" y2="554.10" stroke="#cccccc" stroke-width="1"/>
<line x1="370.45" x2="370.45" y1="373.55" y2="559.6" stroke="#cccccc" stroke-width="1"/>
<line x1="393.23" x2="393.23" y1="373.55" y2="559.6" stroke="#cccccc" stroke-width="1"/>
<line x1="416.01" x2="416.01" y1="373.55" y2="559.6" stroke="#cccccc" stroke-width="1"/>
<line x1="438.79" x2="438.79" y1="373.55" y2="559.6" stroke="#cccccc" stroke-width="1"/>
<line x1="461.57" x2="461.57" y1="373.55" y2="559.6" stroke="#cccccc" stroke-width="1"/>
<line x1="484.35" x2="484.35" y1="373.55" y2="559.6" stroke="#cccccc" stroke-width="1"/>
<rect x="364.65" y="373.55" width="124.95000000000005" height="186.05" fill="none" stroke="#cccccc" stroke-width="1.25"/>
<clipPath id="cl364"><rect x="364.65" y="373.55" width="124.95000000000005" height="186.05"/></clipPath>
<g clip-path="url(#cl364)">
<polygon points="370.45,543.67 393.23,542.31 416.01,538.68 438.79,526.43 461.57,497.40 484.35,379.46 484.35,440.70 461.57,513.28 438.79,536.41 416.01,545.94 393.23,548.66 370.45,550.47" fill="#4c72b0" fill-opacity="0.2"/>
<polyline points="370.45,547.30 393.23,545.48 416.01,542.31 438.79,531.65 461.57,505.79 484.35,406.68" fill="none" stroke="#4c72b0" stroke-width="1.6" stroke-linejoin="round"/>
</g>
<circle cx="370.45" cy="547.30" r="2.5" fill="#4c72b0" stroke="#fff" stroke-width="0.6"/>
<circle cx="393.23" cy="545.48" r="2.5" fill="#4c72b0" stroke="#fff" stroke-width="0.6"/>
<circle cx="416.01" cy="542.31" r="2.5" fill="#4c72b0" stroke="#fff" stroke-width="0.6"/>
<circle cx="438.79" cy="531.65" r="2.5" fill="#4c72b0" stroke="#fff" stroke-width="0.6"/>
<circle cx="461.57" cy="505.79" r="2.5" fill="#4c72b0" stroke="#fff" stroke-width="0.6"/>
<circle cx="484.35" cy="406.68" r="2.5" fill="#4c72b0" stroke="#fff" stroke-width="0.6"/>
<text x="356.45" y="398.84000000000003" font-size="9.75" text-anchor="end" fill="#262626" font-weight="normal" font-style="normal" >0.07</text>
<text x="356.45" y="421.52000000000004" font-size="9.75" text-anchor="end" fill="#262626" font-weight="normal" font-style="normal" >0.06</text>
<text x="356.45" y="444.20000000000005" font-size="9.75" text-anchor="end" fill="#262626" font-weight="normal" font-style="normal" >0.05</text>
<text x="356.45" y="466.88" font-size="9.75" text-anchor="end" fill="#262626" font-weight="normal" font-style="normal" >0.04</text>
<text x="356.45" y="489.56000000000006" font-size="9.75" text-anchor="end" fill="#262626" font-weight="normal" font-style="normal" >0.03</text>
<text x="356.45" y="512.24" font-size="9.75" text-anchor="end" fill="#262626" font-weight="normal" font-style="normal" >0.02</text>
<text x="356.45" y="534.9200000000001" font-size="9.75" text-anchor="end" fill="#262626" font-weight="normal" font-style="normal" >0.01</text>
<text x="356.45" y="557.6" font-size="9.75" text-anchor="end" fill="#262626" font-weight="normal" font-style="normal" >0.00</text>
<text x="370.45" y="575.4" font-size="9.75" text-anchor="middle" fill="#262626" font-weight="normal" font-style="normal" >HQ</text>
<text x="393.23" y="575.4" font-size="9.75" text-anchor="middle" fill="#262626" font-weight="normal" font-style="normal" >1</text>
<text x="416.01" y="575.4" font-size="9.75" text-anchor="middle" fill="#262626" font-weight="normal" font-style="normal" >2</text>
<text x="438.78999999999996" y="575.4" font-size="9.75" text-anchor="middle" fill="#262626" font-weight="normal" font-style="normal" >3</text>
<text x="461.57" y="575.4" font-size="9.75" text-anchor="middle" fill="#262626" font-weight="normal" font-style="normal" >4</text>
<text x="484.35" y="575.4" font-size="9.75" text-anchor="middle" fill="#262626" font-weight="normal" font-style="normal" >5</text>
<text x="427.125" y="588.6" font-size="10.5" text-anchor="middle" fill="#262626" font-weight="normal" font-style="normal" >Degradation level</text>
<text x="427.125" y="368.2" font-size="10.5" text-anchor="middle" fill="#262626" font-style="italic">P<tspan font-size="9.5" font-style="normal" dx="0" dy="2.4">+</tspan></text>
<text transform="translate(331.0,466.57500000000005) rotate(-90)" font-size="10.5" text-anchor="middle" fill="#262626" font-style="italic">P<tspan font-size="9.5" font-style="normal" dx="0" dy="2.4">+</tspan></text>
<text x="607.6" y="347.6" font-size="10" text-anchor="middle" fill="#000" font-weight="normal" font-style="normal" >(f) Known experimental dataset</text>
<line x1="556.65" x2="676.1" y1="378.60" y2="378.60" stroke="#cccccc" stroke-width="1"/>
<line x1="556.65" x2="676.1" y1="403.30" y2="403.30" stroke="#cccccc" stroke-width="1"/>
<line x1="556.65" x2="676.1" y1="428.00" y2="428.00" stroke="#cccccc" stroke-width="1"/>
<line x1="556.65" x2="676.1" y1="452.70" y2="452.70" stroke="#cccccc" stroke-width="1"/>
<line x1="556.65" x2="676.1" y1="477.40" y2="477.40" stroke="#cccccc" stroke-width="1"/>
<line x1="556.65" x2="676.1" y1="502.10" y2="502.10" stroke="#cccccc" stroke-width="1"/>
<line x1="556.65" x2="676.1" y1="526.80" y2="526.80" stroke="#cccccc" stroke-width="1"/>
<line x1="556.65" x2="676.1" y1="551.50" y2="551.50" stroke="#cccccc" stroke-width="1"/>
<rect x="556.65" y="373.55" width="119.45000000000005" height="186.3" fill="none" stroke="#cccccc" stroke-width="1.25"/>
<line x1="586.5" x2="586.5" y1="381.96" y2="454.28" stroke="#303030" stroke-width="1.4"/>
<line x1="586.5" x2="586.5" y1="527.94" y2="549.28" stroke="#303030" stroke-width="1.4"/>
<line x1="574.0" x2="599.0" y1="381.96" y2="381.96" stroke="#303030" stroke-width="1.4"/>
<line x1="574.0" x2="599.0" y1="549.28" y2="549.28" stroke="#303030" stroke-width="1.4"/>
<rect x="562.6" y="454.28" width="47.8" height="73.66" fill="#c03d3e" stroke="#303030" stroke-width="1.4"/>
<line x1="562.6" x2="610.4" y1="491.87" y2="491.87" stroke="#303030" stroke-width="1.4"/>
<line x1="646.25" x2="646.25" y1="533.96" y2="541.37" stroke="#303030" stroke-width="1.4"/>
<line x1="646.25" x2="646.25" y1="550.41" y2="551.20" stroke="#303030" stroke-width="1.4"/>
<line x1="633.75" x2="658.75" y1="533.96" y2="533.96" stroke="#303030" stroke-width="1.4"/>
<line x1="633.75" x2="658.75" y1="551.20" y2="551.20" stroke="#303030" stroke-width="1.4"/>
<rect x="622.35" y="541.37" width="47.8" height="9.04" fill="#1f621f" stroke="#303030" stroke-width="1.4"/>
<line x1="622.35" x2="670.15" y1="545.42" y2="545.42" stroke="#303030" stroke-width="1.4"/>
<path d="M646.25 474.70 L648.65 478.60 L646.25 482.50 L643.85 478.60 Z" fill="#242424"/>
<path d="M646.25 512.00 L648.65 515.90 L646.25 519.80 L643.85 515.90 Z" fill="#242424"/>
<path d="M646.25 521.70 L648.65 525.60 L646.25 529.50 L643.85 525.60 Z" fill="#242424"/>
<text x="548.2" y="382.1" font-size="9.75" text-anchor="end" fill="#262626" font-weight="normal" font-style="normal" >0.035</text>
<text x="548.2" y="406.8" font-size="9.75" text-anchor="end" fill="#262626" font-weight="normal" font-style="normal" >0.030</text>
<text x="548.2" y="431.5" font-size="9.75" text-anchor="end" fill="#262626" font-weight="normal" font-style="normal" >0.025</text>
<text x="548.2" y="456.2" font-size="9.75" text-anchor="end" fill="#262626" font-weight="normal" font-style="normal" >0.020</text>
<text x="548.2" y="480.9" font-size="9.75" text-anchor="end" fill="#262626" font-weight="normal" font-style="normal" >0.015</text>
<text x="548.2" y="505.6" font-size="9.75" text-anchor="end" fill="#262626" font-weight="normal" font-style="normal" >0.010</text>
<text x="548.2" y="530.3" font-size="9.75" text-anchor="end" fill="#262626" font-weight="normal" font-style="normal" >0.005</text>
<text x="548.2" y="555.0" font-size="9.75" text-anchor="end" fill="#262626" font-weight="normal" font-style="normal" >0.000</text>
<text x="586.5" y="575.4" font-size="9.75" text-anchor="middle" fill="#262626" font-weight="normal" font-style="normal" >Bad</text>
<text x="646.3" y="575.4" font-size="9.75" text-anchor="middle" fill="#262626" font-weight="normal" font-style="normal" >Good</text>
<text x="618.4" y="588.6" font-size="10.5" text-anchor="middle" fill="#262626" font-weight="normal" font-style="normal" >Visual evaluation</text>
<text x="616.6" y="368.2" font-size="10.5" text-anchor="middle" fill="#262626" font-style="italic">P<tspan font-size="9.5" font-style="normal" dx="0" dy="2.4">+</tspan></text>
<text transform="translate(518.5,467) rotate(-90)" font-size="10.5" text-anchor="middle" fill="#262626" font-style="italic">P<tspan font-size="9.5" font-style="normal" dx="0" dy="2.4">+</tspan></text>
</svg>
</body>
</html>
